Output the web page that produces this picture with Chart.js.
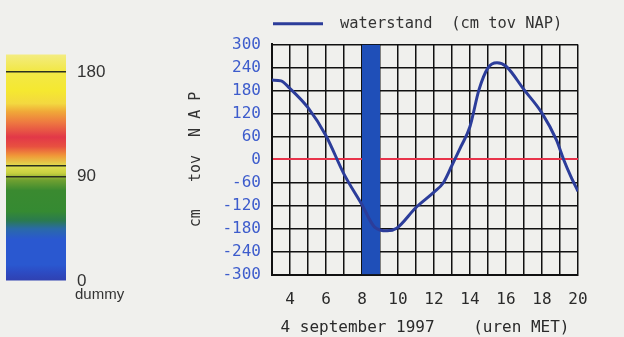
<!DOCTYPE html>
<html>
<head>
<meta charset="utf-8">
<script src="https://cdn.jsdelivr.net/npm/chart.js@4/dist/chart.umd.min.js"></script>
<style>
  html, body { margin: 0; padding: 0; background: #f0f0ed; }
  #wrap { position: relative; width: 624px; height: 337px; overflow: hidden; }
  #scale { position: absolute; left: 0; top: 0; }
  #level { position: absolute; left: 170px; top: 0; }
  #dummy { position: absolute; left: 75px; top: 285px; font: 15px "Liberation Sans", sans-serif; color: #333; }
</style>
</head>
<body>
<div id="wrap">
  <canvas id="scale" width="160" height="337"></canvas>
  <div id="dummy">dummy</div>
  <canvas id="level" width="454" height="337"></canvas>
</div>
<script>
// colour scale (left)
const scaleTop = 195
const scaleTicks = [0, 90, 99, 180]
const scaleMarked = [90, 99, 180]
const scaleStops = [0, 8, 14, 36, 45, 52, 60, 78, 87, 93, 99, 108, 116, 124, 137, 146, 153, 164, 182, 195]
const scaleColors = ['#3040b0', '#2c4cc4', '#2a58d0', '#2a58d0', '#2a6aa8', '#2a7a50', '#358a32', '#3a8a30', '#70a030',
    '#c8d040', '#e0e050', '#f09838', '#e85040', '#e23848', '#ee7a40', '#f0a838', '#f3d840', '#f5e830', '#f2e84a', '#f3ec80']

// waterstand (right)
const hours = [3, 3.5, 4, 5, 6, 7, 8, 8.7, 9.4, 9.9, 11, 12, 12.5, 13, 13.5, 14, 14.5, 15, 15.5, 16, 17, 18, 18.8, 19.2, 19.6, 20]
const levels = [207, 205, 185, 135, 62, -38, -118, -176, -186, -180, -125, -85, -62, -15, 34, 86, 182, 239, 252, 243, 182, 121, 51, 0, -44, -83]
const gridHours = [3, 4, 5, 6, 7, 8, 9, 10, 11, 12, 13, 14, 15, 16, 17, 18, 19, 20]
const hourLabels = [4, 6, 8, 10, 12, 14, 16, 18, 20]
const levelTicks = [-300, -240, -180, -120, -60, 0, 60, 120, 180, 240, 300]
const bandHours = [8, 9]
const bandTop = [300, 300]

const mono = '"DejaVu Sans Mono", monospace'

new Chart(document.getElementById('scale'), {
    type: 'bar',
    data: {
        labels: [''],
        datasets: [{
            data: [[0, scaleTop]],
            barPercentage: 1,
            categoryPercentage: 1,
            borderWidth: 0,
            backgroundColor: (ctx) => {
                const chart = ctx.chart
                if (!chart.chartArea) return '#2a58d0'
                const y = chart.scales.y
                const g = chart.ctx.createLinearGradient(0, y.getPixelForValue(0), 0, y.getPixelForValue(scaleTop))
                scaleStops.forEach((v, i) => g.addColorStop(v / scaleTop, scaleColors[i]))
                return g
            }
        }]
    },
    options: {
        responsive: false,
        animation: false,
        layout: {padding: {left: 6, right: 0, top: 49, bottom: 56}},
        plugins: {legend: {display: false}, tooltip: {enabled: false}},
        scales: {
            x: {display: false},
            y: {
                position: 'right',
                min: 0,
                max: 200,
                afterBuildTicks: (scale) => { scale.ticks = scaleTicks.map(v => ({value: v})) },
                afterFit: (scale) => { scale.width = 94 },
                border: {display: false},
                grid: {
                    z: 1,
                    drawTicks: false,
                    lineWidth: 1.5,
                    color: (ctx) => scaleMarked.includes(ctx.tick.value) ? '#2a3020' : 'rgba(0,0,0,0)'
                },
                ticks: {
                    padding: 11,
                    autoSkip: false,
                    color: '#333',
                    font: {family: '"Liberation Sans", sans-serif', size: 17},
                    callback: (v) => v === 99 ? '' : String(v)
                }
            }
        }
    }
})

new Chart(document.getElementById('level'), {
    type: 'line',
    data: {
        datasets: [{
            label: ' waterstand  (cm tov NAP)',
            data: hours.map((h, i) => ({x: h, y: levels[i]})),
            borderColor: '#2c3d9a',
            backgroundColor: '#2c3d9a',
            borderWidth: 3,
            pointRadius: 0,
            cubicInterpolationMode: 'monotone',
            fill: false
        }, {
            label: 'band',
            data: bandHours.map((h, i) => ({x: h, y: bandTop[i]})),
            borderWidth: 0,
            pointRadius: 0,
            backgroundColor: '#1f4fb8',
            fill: 'start'
        }]
    },
    options: {
        responsive: false,
        animation: false,
        layout: {padding: {left: 14, right: 46, top: 14, bottom: 0}},
        plugins: {
            tooltip: {enabled: false},
            legend: {
                align: 'start',
                labels: {
                    padding: 5,
                    usePointStyle: true,
                    pointStyle: 'line',
                    pointStyleWidth: 50,
                    color: '#333',
                    font: {family: mono, size: 15.4},
                    filter: (item) => item.datasetIndex === 0
                }
            }
        },
        scales: {
            x: {
                type: 'linear',
                min: 3,
                max: 20,
                afterBuildTicks: (scale) => { scale.ticks = gridHours.map(v => ({value: v})) },
                border: {color: '#111', width: 2},
                grid: {drawTicks: false, color: '#111', lineWidth: 1.5},
                ticks: {
                    padding: 16,
                    maxRotation: 0,
                    autoSkip: false,
                    color: '#2a2a2a',
                    font: {family: mono, size: 16},
                    callback: (v) => hourLabels.includes(v) ? String(v) : ''
                },
                title: {
                    display: true,
                    text: '4 september 1997    (uren MET)',
                    color: '#2a2a2a',
                    font: {family: mono, size: 16},
                    padding: {top: -8, bottom: 0}
                }
            },
            y: {
                min: -300,
                max: 300,
                afterBuildTicks: (scale) => { scale.ticks = levelTicks.map(v => ({value: v})) },
                afterFit: (scale) => { scale.width = 88 },
                border: {color: '#111', width: 2},
                grid: {
                    drawTicks: false,
                    lineWidth: (ctx) => ctx.tick.value === 0 ? 2 : 1.5,
                    color: (ctx) => ctx.tick.value === 0 ? '#e8334a' : '#111'
                },
                ticks: {
                    padding: 11,
                    autoSkip: false,
                    color: '#3d5ccc',
                    font: {family: mono, size: 16}
                },
                title: {
                    display: true,
                    text: 'cm   tov  N A P',
                    color: '#333',
                    font: {family: mono, size: 15},
                    padding: {top: 3, bottom: 0}
                }
            }
        }
    },
    plugins: [{
        id: 'legendSpot',
        afterLayout(chart) {
            const l = chart.legend
            const dx = 103 - l.options.labels.padding - l.left
            l.left += dx
            l.right += dx
            l.top -= 3
            l.bottom -= 3
        }
    }]
})
</script>
</body>
</html>
